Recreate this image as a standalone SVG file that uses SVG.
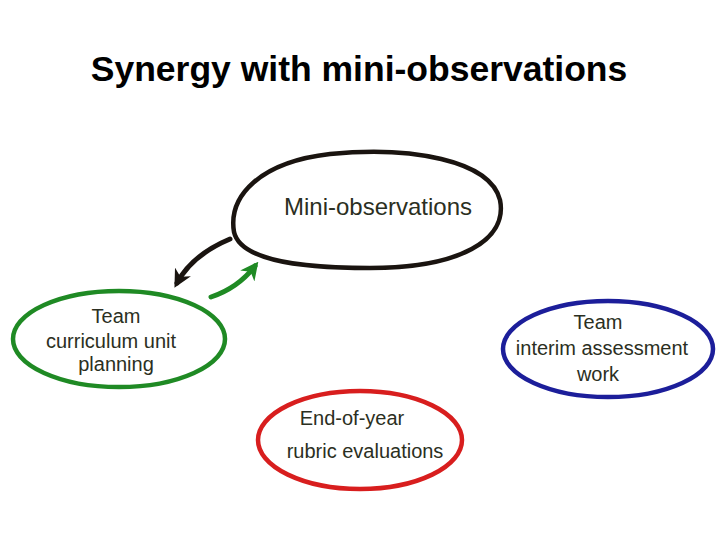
<svg xmlns="http://www.w3.org/2000/svg" width="720" height="540" viewBox="0 0 720 540">
<style>
.title{font-family:"Liberation Sans",Arial,sans-serif;font-weight:bold;font-size:35.5px;fill:#000}
.hand{font-family:"Liberation Sans",Arial,sans-serif;font-size:20px;fill:#2b2f22;text-anchor:middle}
.oval{fill:none;stroke-width:4.5;stroke-linecap:round}
.conn{fill:none;stroke-width:5;stroke-linecap:round}
</style>
<defs>
<marker id="ahB" viewBox="0 0 10 10" refX="7" refY="5" markerWidth="3.6" markerHeight="3.6" orient="auto" markerUnits="strokeWidth">
<path d="M0,0 L10,5 L0,10 L3,5 Z" fill="#1a1410"/>
</marker>
<marker id="ahG" viewBox="0 0 10 10" refX="7" refY="5" markerWidth="3.6" markerHeight="3.6" orient="auto" markerUnits="strokeWidth">
<path d="M0,0 L10,5 L0,10 L3,5 Z" fill="#1f8a24"/>
</marker>
</defs>
<rect width="720" height="540" fill="#fff"/>
<text class="title" x="359" y="81" text-anchor="middle">Synergy with mini-observations</text>

<g id="connectors">
<path class="conn" stroke="#1a1410" d="M230,239 Q192,255 177,283" marker-end="url(#ahB)"/>
<path class="conn" stroke="#1f8a24" d="M211,297 Q238,288 255,266" marker-end="url(#ahG)"/>
</g>

<g id="node-mini">
<path class="oval" stroke="#1a1410" d="M234,232 C228,196 260,162 330,154 C410,146 490,160 500,200 C508,240 460,268 370,268 C290,268 240,258 234,232 Z"/>
<text class="hand" x="378" y="215" style="font-size:24px">Mini-observations</text>
</g>

<g id="node-curriculum">
<ellipse class="oval" stroke="#1f8a24" cx="119" cy="339" rx="106" ry="48"/>
<text class="hand" x="116" y="323">Team</text>
<text class="hand" x="111" y="348">curriculum unit</text>
<text class="hand" x="116" y="371">planning</text>
</g>

<g id="node-interim">
<ellipse class="oval" stroke="#1c1e9a" cx="608" cy="349" rx="105" ry="48"/>
<text class="hand" x="598" y="329">Team</text>
<text class="hand" x="602" y="355">interim assessment</text>
<text class="hand" x="598" y="381">work</text>
</g>

<g id="node-rubric">
<ellipse class="oval" stroke="#d81e1e" cx="360" cy="440" rx="102" ry="49"/>
<text class="hand" x="352" y="425">End-of-year</text>
<text class="hand" x="365" y="458">rubric evaluations</text>
</g>
</svg>
